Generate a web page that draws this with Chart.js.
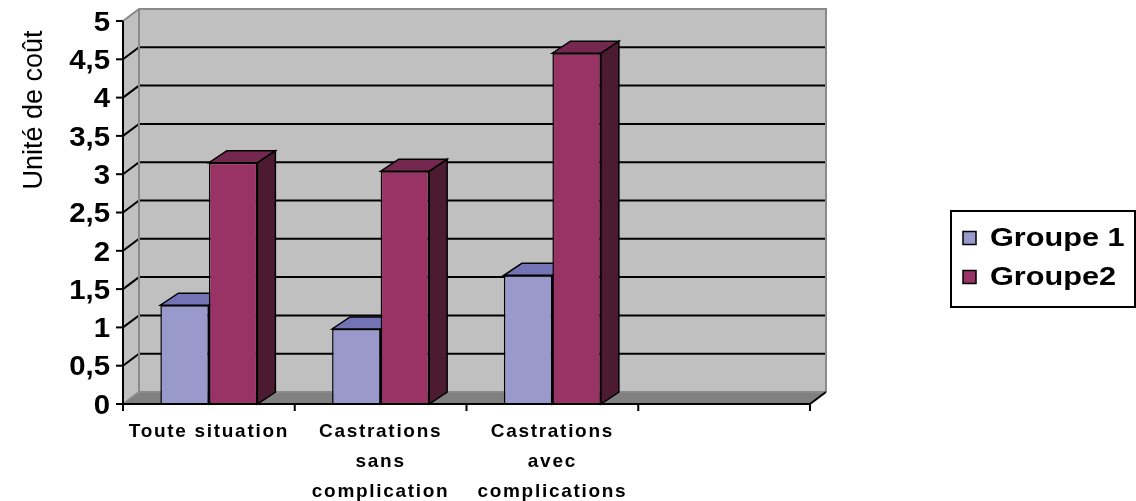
<!DOCTYPE html>
<html>
<head>
<meta charset="utf-8">
<title>Unité de coût</title>
<script src="https://cdn.jsdelivr.net/npm/chart.js@4.4.1/dist/chart.umd.min.js"></script>
<style>
  html, body { margin: 0; padding: 0; background: #ffffff; }
  #wrap { width: 1136px; height: 501px; position: relative; }
</style>
</head>
<body>
<div id="wrap"><canvas id="chart" width="1136" height="501"></canvas></div>
<script>
// ---- data ----
const categories = ['Toute situation', ['Castrations', 'sans', 'complication'], ['Castrations', 'avec', 'complications'], ''];
const seriesNames = ['Groupe 1', 'Groupe2'];
const groupe1 = [1.29, 0.98, 1.68, null];
const groupe2 = [3.15, 3.04, 4.58, null];
const yTickValues = [0, 0.5, 1, 1.5, 2, 2.5, 3, 3.5, 4, 4.5, 5];
const yTickLabels = ['0', '0,5', '1', '1,5', '2', '2,5', '3', '3,5', '4', '4,5', '5'];
const axisTitle = 'Unité de coût';

// ---- styles ----
const faceColors = [
  { front: '#9999cc', top: '#7373b5', side: '#4d4d80' },
  { front: '#993366', top: '#74284f', side: '#4c1b32' }
];
const WALL = '#c0c0c0';
const WALL_EDGE = '#8a8a8a';
const FLOOR = '#808080';
const WALL_DX = 16, WALL_DY = 12;   // depth of the back wall
const BAR_DX = 18, BAR_DY = 12;     // depth of each column

function poly(ctx, pts, fill, stroke, lw) {
  ctx.beginPath();
  ctx.moveTo(pts[0][0], pts[0][1]);
  for (let i = 1; i < pts.length; i++) ctx.lineTo(pts[i][0], pts[i][1]);
  ctx.closePath();
  if (fill) { ctx.fillStyle = fill; ctx.fill(); }
  if (stroke) { ctx.strokeStyle = stroke; ctx.lineWidth = lw || 1; ctx.stroke(); }
}
function line(ctx, x1, y1, x2, y2, color, lw) {
  ctx.beginPath();
  ctx.moveTo(x1, y1); ctx.lineTo(x2, y2);
  ctx.strokeStyle = color; ctx.lineWidth = lw; ctx.stroke();
}
// text with an optional horizontal stretch and letter spacing
function text(ctx, str, x, y, font, align, sx, spacing) {
  ctx.save();
  ctx.translate(x, y);
  ctx.scale(sx || 1, 1);
  ctx.font = font;
  ctx.textAlign = align;
  ctx.textBaseline = 'middle';
  ctx.fillStyle = '#000000';
  if ('letterSpacing' in ctx) ctx.letterSpacing = (spacing || 0) + 'px';
  ctx.fillText(str, 0, 0);
  ctx.restore();
}

const scene3d = {
  id: 'scene3d',
  beforeDatasetsDraw(chart) {
    const { ctx, chartArea: a, scales: { x, y } } = chart;
    const y0 = y.getPixelForValue(0);
    const yT = y.getPixelForValue(5);
    const L = a.left, R = a.right;
    ctx.save();
    ctx.lineCap = 'butt';
    // left side wall and back wall
    poly(ctx, [[L, y0], [L, yT], [L + WALL_DX, yT - WALL_DY], [L + WALL_DX, y0 - WALL_DY]], WALL);
    poly(ctx, [[L + WALL_DX, yT - WALL_DY], [R + WALL_DX, yT - WALL_DY], [R + WALL_DX, y0 - WALL_DY], [L + WALL_DX, y0 - WALL_DY]], WALL);
    // floor
    poly(ctx, [[L, y0], [R, y0], [R + WALL_DX, y0 - WALL_DY], [L + WALL_DX, y0 - WALL_DY]], FLOOR);
    // gridlines
    yTickValues.forEach(v => {
      if (v === 0 || v === 5) return;
      const py = y.getPixelForValue(v);
      ctx.beginPath();
      ctx.moveTo(L, py);
      ctx.lineTo(L + WALL_DX, py - WALL_DY);
      ctx.lineTo(R + WALL_DX, py - WALL_DY);
      ctx.strokeStyle = '#000000'; ctx.lineWidth = 2; ctx.stroke();
    });
    // wall edges
    ctx.beginPath();
    ctx.moveTo(L, yT);
    ctx.lineTo(L + WALL_DX, yT - WALL_DY);
    ctx.lineTo(R + WALL_DX, yT - WALL_DY);
    ctx.lineTo(R + WALL_DX, y0 - WALL_DY);
    ctx.moveTo(L + WALL_DX, yT - WALL_DY);
    ctx.lineTo(L + WALL_DX, y0 - WALL_DY);
    ctx.lineTo(R + WALL_DX, y0 - WALL_DY);
    ctx.moveTo(L, y0);
    ctx.lineTo(L + WALL_DX, y0 - WALL_DY);
    ctx.strokeStyle = WALL_EDGE; ctx.lineWidth = 2; ctx.stroke();

    // top and side faces of the columns
    chart.data.datasets.forEach((ds, di) => {
      const meta = chart.getDatasetMeta(di);
      const c = faceColors[di];
      meta.data.forEach((el, i) => {
        if (ds.data[i] == null) return;
        const p = el.getProps(['x', 'y', 'base', 'width'], true);
        const l = p.x - p.width / 2, r = p.x + p.width / 2;
        const t = p.y, b = p.base;
        poly(ctx, [[r, t], [r + BAR_DX, t - BAR_DY], [r + BAR_DX, b - BAR_DY], [r, b]], c.side, '#000000', 1.5);
        poly(ctx, [[l, t], [r, t], [r + BAR_DX, t - BAR_DY], [l + BAR_DX, t - BAR_DY]], c.top, '#000000', 1.5);
      });
    });
    ctx.restore();
  },
  afterDatasetsDraw(chart) {
    const { ctx, chartArea: a, scales: { x, y } } = chart;
    const y0 = y.getPixelForValue(0);
    const yT = y.getPixelForValue(5);
    const L = a.left, R = a.right;
    ctx.save();
    // value axis with tick marks and labels
    line(ctx, L, yT, L, y0 + 1, '#000000', 2);
    yTickValues.forEach((v, i) => {
      const py = y.getPixelForValue(v);
      line(ctx, L - 7, py, L, py, '#000000', 2);
      text(ctx, yTickLabels[i], L - 13, py + 2, 'bold 28px "Liberation Sans", Arial, sans-serif', 'right', 1.05, 0);
    });
    // category axis, end edge of the floor and tick marks
    line(ctx, L - 7, y0, R, y0, '#000000', 2);
    line(ctx, R, y0, R + WALL_DX, y0 - WALL_DY, '#000000', 2);
    const n = categories.length;
    for (let i = 0; i <= n; i++) {
      const px = L + (R - L) * i / n;
      line(ctx, px, y0, px, y0 + 7, '#000000', 2);
    }
    // category labels
    categories.forEach((lab, i) => {
      const lines = Array.isArray(lab) ? lab : [lab];
      const cx = x.getPixelForValue(i);
      lines.forEach((s, k) => {
        text(ctx, s, cx, 432 + k * 30, 'bold 19px "Liberation Sans", Arial, sans-serif', 'center', 1.0, 1.7);
      });
    });
    // axis title
    ctx.save();
    ctx.translate(35, 110);
    ctx.rotate(-Math.PI / 2);
    ctx.font = '27px "Liberation Sans", Arial, sans-serif';
    ctx.textAlign = 'center';
    ctx.textBaseline = 'middle';
    ctx.fillStyle = '#000000';
    ctx.fillText(axisTitle, 0, 0);
    ctx.restore();

    // legend
    ctx.lineWidth = 2;
    ctx.strokeStyle = '#000000';
    ctx.strokeRect(951, 211, 184, 96);
    seriesNames.forEach((name, i) => {
      const cy = 238 + i * 39;
      ctx.fillStyle = faceColors[i].front;
      ctx.fillRect(963, cy - 6.5, 13, 13);
      ctx.lineWidth = 1.5;
      ctx.strokeRect(963, cy - 6.5, 13, 13);
      text(ctx, name, 990, cy + 1, 'bold 26px "Liberation Sans", Arial, sans-serif', 'left', 1.18, 0);
    });
    ctx.restore();
  }
};

new Chart(document.getElementById('chart'), {
  type: 'bar',
  data: {
    labels: categories,
    datasets: [
      { label: seriesNames[0], data: groupe1, backgroundColor: faceColors[0].front, borderColor: '#000000', borderWidth: 1.5 },
      { label: seriesNames[1], data: groupe2, backgroundColor: faceColors[1].front, borderColor: '#000000', borderWidth: 1.5 }
    ]
  },
  options: {
    responsive: false,
    animation: false,
    devicePixelRatio: 1,
    layout: { padding: { left: 123, right: 326, top: 21, bottom: 97 } },
    categoryPercentage: 0.565,
    barPercentage: 1.0,
    plugins: { legend: { display: false }, tooltip: { enabled: false } },
    scales: {
      x: { display: false, grid: { display: false } },
      y: { display: false, min: 0, max: 5, ticks: { stepSize: 0.5 }, grid: { display: false } }
    }
  },
  plugins: [scene3d]
});
</script>
</body>
</html>
